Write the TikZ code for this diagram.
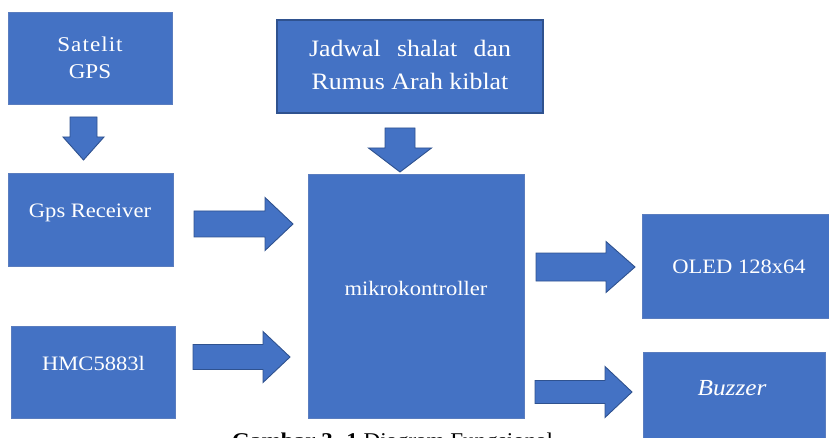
\documentclass[tikz,border=0pt]{standalone}
\usepackage{fontspec}
\setmainfont{Liberation Serif}[FakeStretch=1.1]
\definecolor{boxblue}{HTML}{4472C4}
\definecolor{edgeblue}{HTML}{2F528F}
\definecolor{softedge}{HTML}{5A7DBF}
\tikzset{
  blockbox/.style={fill=boxblue, draw=softedge, line width=0.6pt, inner sep=0pt, outer sep=0pt},
  framedbox/.style={fill=boxblue, draw=edgeblue, line width=1.6pt, inner sep=0pt, outer sep=0pt},
  blockarrow/.style={fill=boxblue, draw=edgeblue, line width=0.9pt, line join=miter},
  boxtext/.style={text=white, inner sep=0pt, anchor=base},
}
% box node: name, x1, y1, x2, y2, style
\newcommand\boxat[6]{\node[#6, minimum width={(#4-#2)*1pt}, minimum height={(#5-#3)*1pt}] (#1) at ({(#2+#4)/2},{(#3+#5)/2}) {};}
% right arrow: x start, shaft end, tip, y centre, shaft half, head half
\newcommand\rightblock[6]{\path[blockarrow] (#1,#4-#5) -- (#2,#4-#5) -- (#2,#4-#6) -- (#3,#4) -- (#2,#4+#6) -- (#2,#4+#5) -- (#1,#4+#5) -- cycle;}
% down arrow: y start, shaft end, tip, x centre, shaft half, head half
\newcommand\downblock[6]{\path[blockarrow] (#4-#5,#1) -- (#4-#5,#2) -- (#4-#6,#2) -- (#4,#3) -- (#4+#6,#2) -- (#4+#5,#2) -- (#4+#5,#1) -- cycle;}
\begin{document}
\begin{tikzpicture}[x=1pt,y=-1pt]
\useasboundingbox (0,0) rectangle (829,438);
% boxes
\boxat{sat}{8}{12}{172}{104}{blockbox}
\boxat{jad}{277}{20}{543}{113}{framedbox}
\boxat{gps}{8}{173}{173}{266}{blockbox}
\boxat{hmc}{11}{326}{175}{418}{blockbox}
\boxat{mcu}{308}{174}{524}{418}{blockbox}
\boxat{oled}{642}{214}{832}{318}{blockbox}
\boxat{buz}{643}{352}{825}{445}{blockbox}
% texts (anchor = baseline of the last line)
\node[boxtext, align=center, font=\fontsize{21}{26.5}\selectfont] (satt) at (90,78.5) {\addfontfeature{LetterSpace=5}Satelit\\GPS};
\node[boxtext, align=center, font=\fontsize{23.5}{33}\selectfont] (jadt) at (410,90)
  {\makebox[202pt][s]{Jadwal shalat dan}\\Rumus Arah kiblat};
\node[boxtext, font=\fontsize{20.5}{24}\selectfont] (gpst) at (90,218) {Gps Receiver};
\node[boxtext, font=\fontsize{20.5}{24}\selectfont] (hmct) at (93.5,370) {HMC5883l};
\node[boxtext, font=\fontsize{20.5}{24}\selectfont] (mcut) at (416,295) {mikrokontroller};
\node[boxtext, font=\fontsize{20.5}{24}\selectfont] (oledt) at (739,273) {OLED 128x64};
\node[boxtext, font=\fontsize{23}{26}\itshape] (buzt) at (732,395) {Buzzer};
% block arrows
\downblock{117}{137}{160}{83.5}{13.5}{20.5}
\downblock{128}{148}{172}{400}{15}{31.5}
\rightblock{194}{265}{293}{224}{13}{26.5}
\rightblock{193}{263}{290}{357}{12.5}{25.5}
\rightblock{536}{606}{635}{267}{14}{25.5}
\rightblock{535}{605}{632}{392}{11.5}{25.5}
% caption (cut by the lower edge)
\node[anchor=base west, inner sep=0pt, font=\fontsize{21}{24}\selectfont] (cap) at (232,447) {\textbf{Gambar 3. 1} Diagram Fungsional};
\end{tikzpicture}
\end{document}
